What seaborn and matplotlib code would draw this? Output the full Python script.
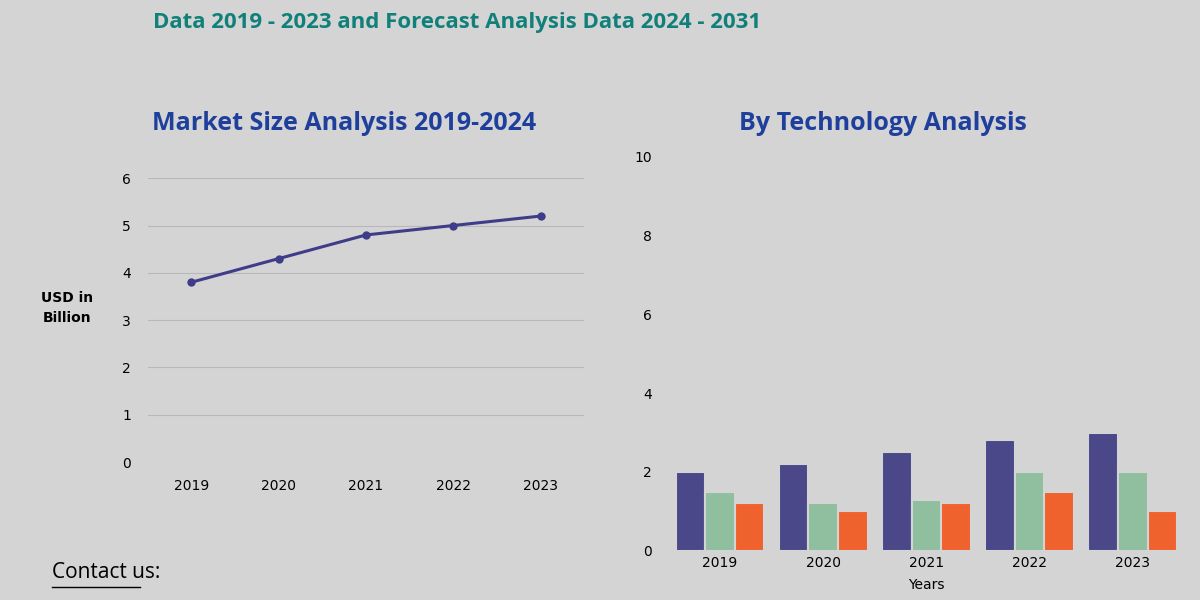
import matplotlib
matplotlib.use("Agg")
import matplotlib.pyplot as plt
import seaborn as sns
import pandas as pd

years = ["2019", "2020", "2021", "2022", "2023"]
market_size = [3.8, 4.3, 4.8, 5.0, 5.2]
tech_a = [2.0, 2.2, 2.5, 2.8, 3.0]
tech_b = [1.5, 1.2, 1.3, 2.0, 2.0]
tech_c = [1.2, 1.0, 1.2, 1.5, 1.0]

BG = "#d4d4d4"
fig = plt.figure(figsize=(12, 6), dpi=100, facecolor=BG)
fig.text(0.1275, 0.963, "Data 2019 - 2023 and Forecast Analysis Data 2024 - 2031",
         ha="left", va="center", color="#11807a", fontsize=16, fontweight="bold", family="Open Sans")
fig.text(0.287, 0.795, "Market Size Analysis 2019-2024", ha="center", va="center",
         color="#1f3f9c", fontsize=18, fontweight="bold", family="Open Sans")
fig.text(0.736, 0.795, "By Technology Analysis", ha="center", va="center",
         color="#1f3f9c", fontsize=18, fontweight="bold", family="Open Sans")
fig.text(0.043, 0.045, "Contact us:", ha="left", va="center", color="black", fontsize=15, family="Open Sans")
fig.add_artist(plt.Line2D([0.043, 0.117], [0.022, 0.022], color="black", lw=1))

# Line chart
ax1 = fig.add_axes([0.123, 0.23, 0.364, 0.473])
ax1.set_facecolor("none")
df1 = pd.DataFrame({"year": years, "size": market_size})
sns.lineplot(data=df1, x="year", y="size", ax=ax1, color="#3f3d8a", lw=2.2,
             marker="o", markersize=6, markeredgewidth=0, sort=False)
ax1.set_ylim(0, 6)
ax1.set_xlim(-0.5, 4.5)
ax1.set_yticks(range(0, 7))
ax1.grid(axis="y", color="#b8b8b8", lw=0.8)
ax1.set_axisbelow(True)
for s in ax1.spines.values():
    s.set_visible(False)
ax1.tick_params(length=0, labelsize=10, pad=12)
ax1.set_xlabel("")
ax1.set_ylabel("")
fig.text(0.056, 0.487, "USD in\nBillion", ha="center", va="center", fontsize=10, fontweight="bold",
         linespacing=1.5)

# Bar chart
ax2 = fig.add_axes([0.557, 0.082, 0.43, 0.657])
ax2.set_facecolor("none")
df2 = pd.DataFrame({"year": years * 3,
                    "value": tech_a + tech_b + tech_c,
                    "tech": ["A"] * 5 + ["B"] * 5 + ["C"] * 5})
sns.barplot(data=df2, x="year", y="value", hue="tech", ax=ax2,
            palette=["#4a4889", "#8fbf9f", "#f0622d"], width=0.86, legend=False, saturation=1,
            edgecolor=BG, linewidth=1.5)
ax2.set_ylim(0, 10)
ax2.set_yticks(range(0, 11, 2))
for s in ax2.spines.values():
    s.set_visible(False)
ax2.tick_params(length=0, labelsize=10)
ax2.set_ylabel("")
ax2.set_xlabel("Years", fontsize=10, labelpad=6)
ax2.yaxis.set_tick_params(pad=12)

fig.savefig("out.png", dpi=100, facecolor=fig.get_facecolor())
